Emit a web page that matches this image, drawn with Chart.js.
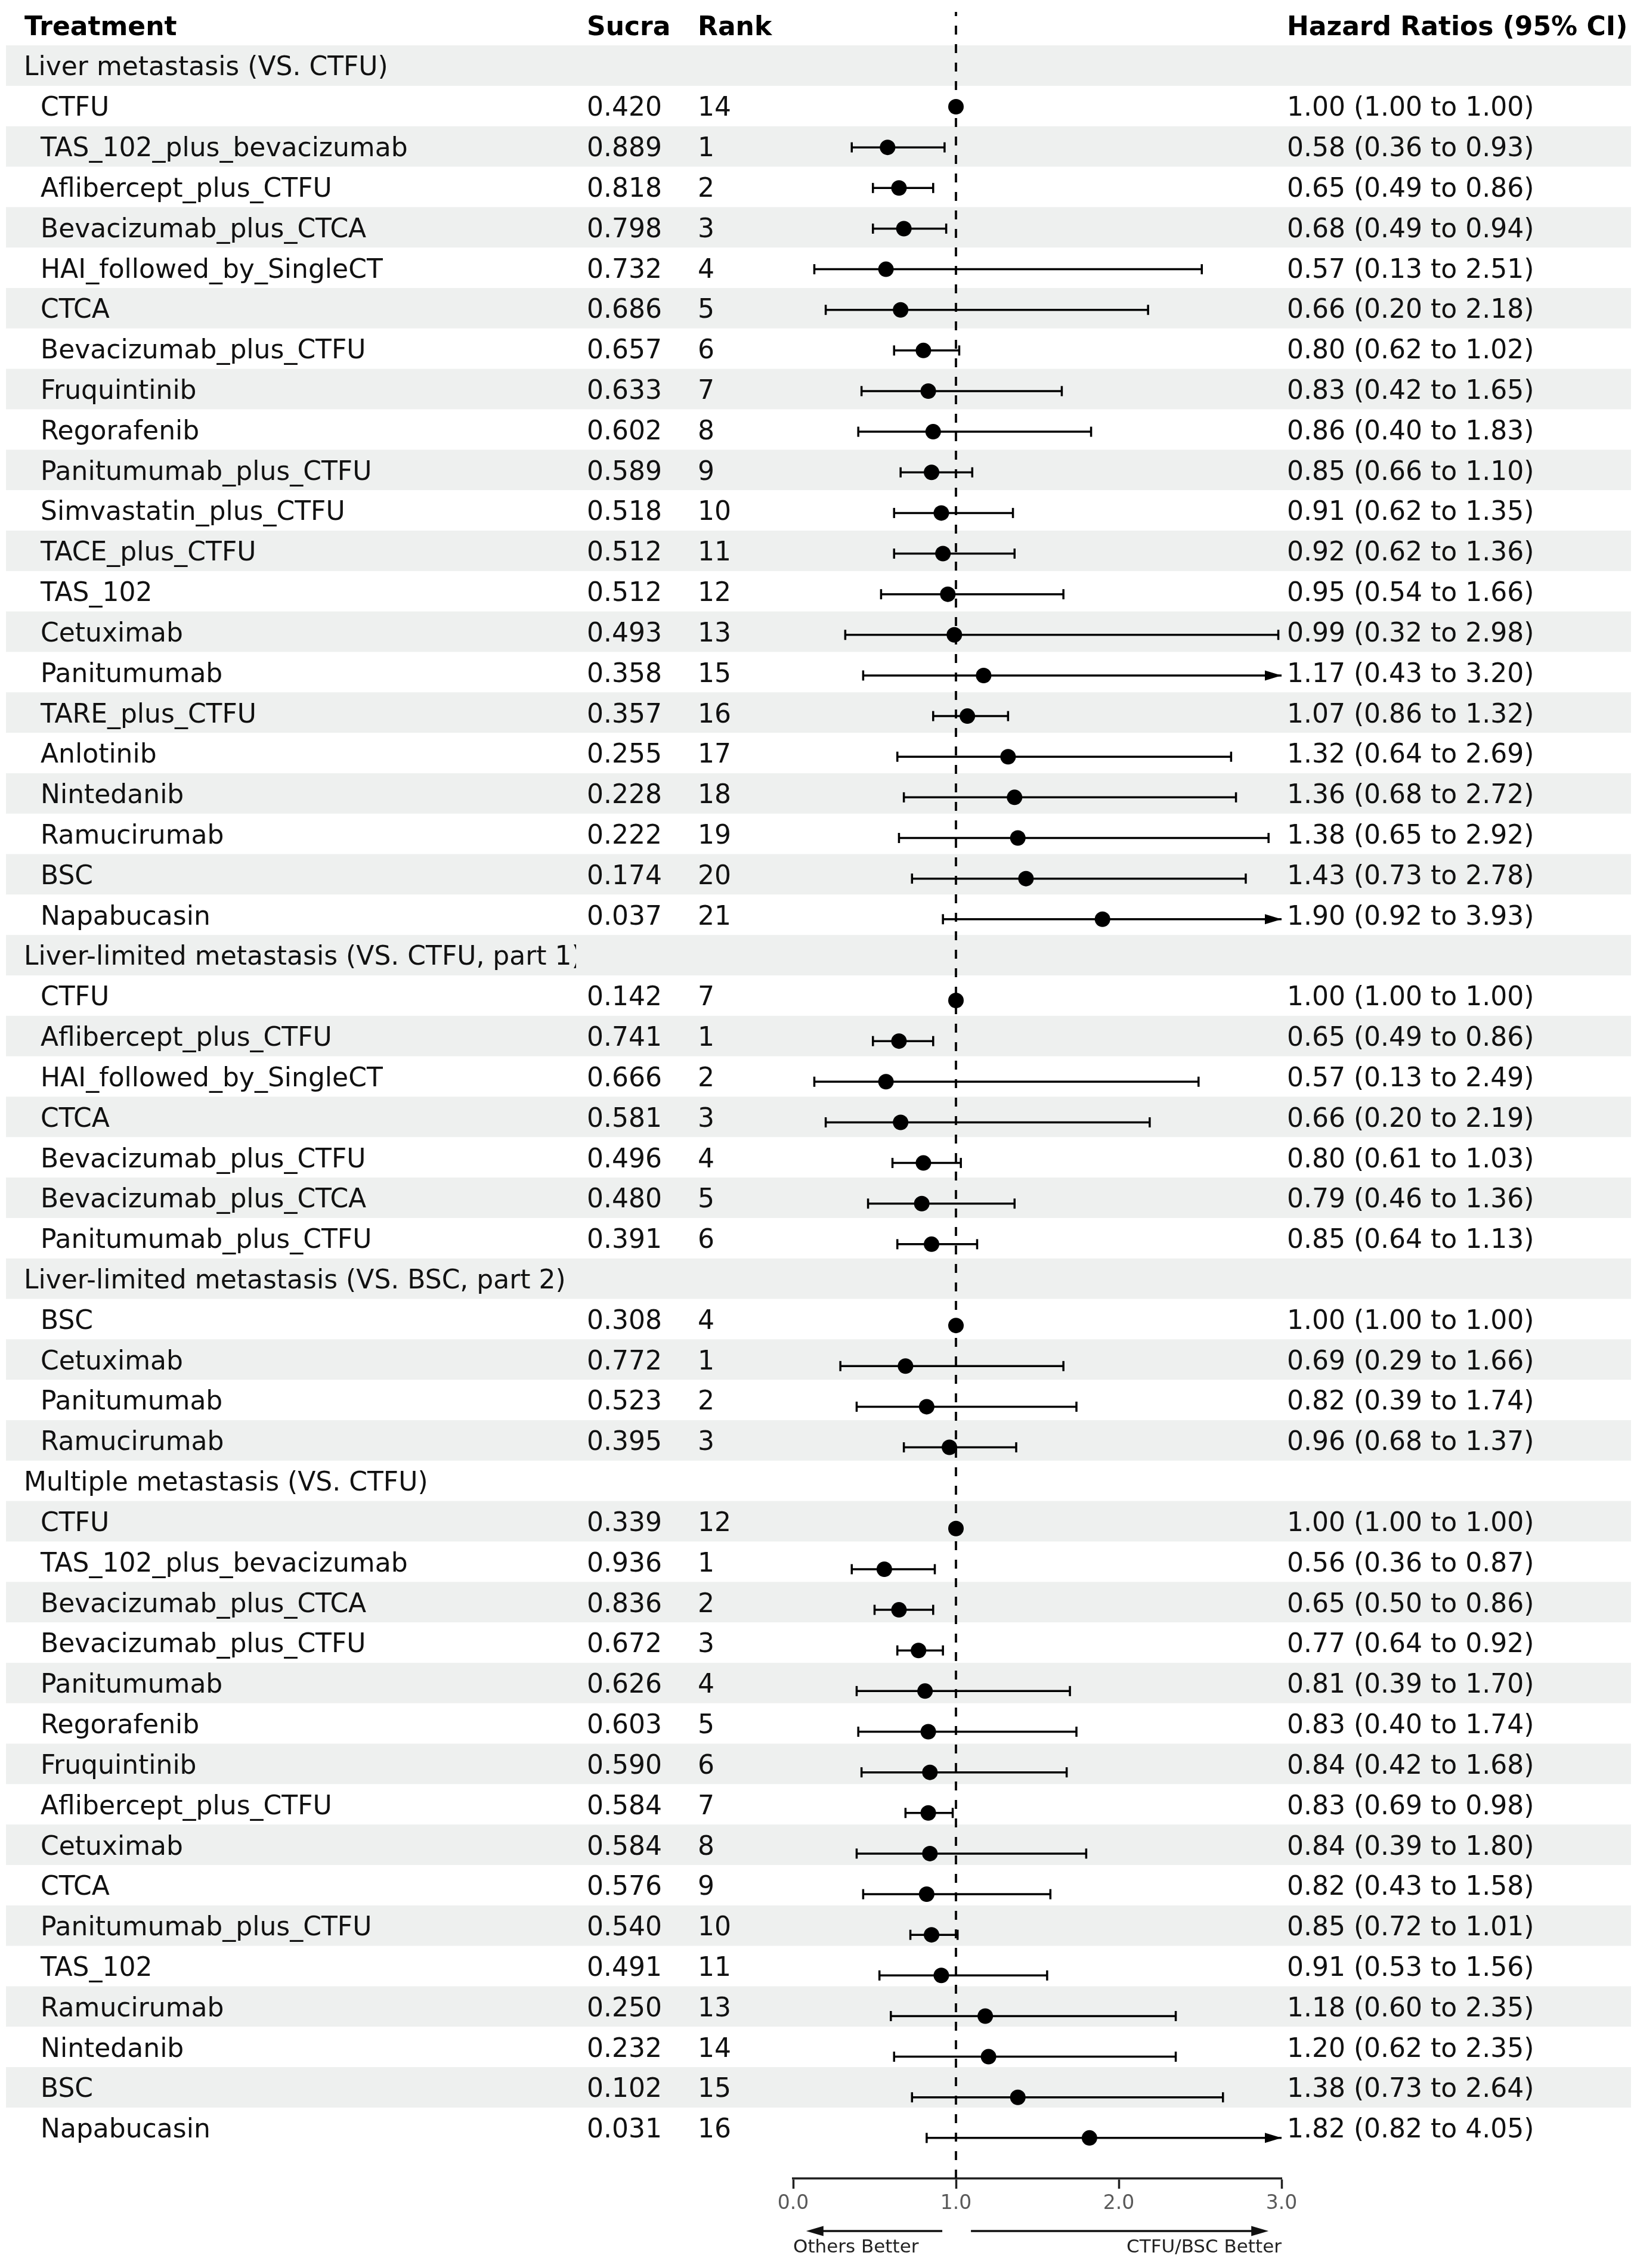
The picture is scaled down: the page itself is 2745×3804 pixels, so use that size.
<!DOCTYPE html>
<html>
<head>
<meta charset="utf-8">
<title>Forest plot</title>
<script src="https://cdn.jsdelivr.net/npm/chart.js@4.4.1/dist/chart.umd.min.js"></script>
<style>
  html, body { margin: 0; padding: 0; background: #fff; }
  canvas { display: block; }
</style>
</head>
<body>
<canvas id="forest" width="2745" height="3804"></canvas>
<script>
const FONT = "'DejaVu Sans', sans-serif";

// ---- data ----
const groupTitles = [
    "Liver metastasis (VS. CTFU)",
    "Liver-limited metastasis (VS. CTFU, part 1)",
    "Liver-limited metastasis (VS. BSC, part 2)",
    "Multiple metastasis (VS. CTFU)"
];
const groupSizes = [21, 7, 4, 16];

const treatments = [
    "CTFU", "TAS_102_plus_bevacizumab", "Aflibercept_plus_CTFU", "Bevacizumab_plus_CTCA",
    "HAI_followed_by_SingleCT", "CTCA", "Bevacizumab_plus_CTFU", "Fruquintinib", "Regorafenib",
    "Panitumumab_plus_CTFU", "Simvastatin_plus_CTFU", "TACE_plus_CTFU", "TAS_102", "Cetuximab",
    "Panitumumab", "TARE_plus_CTFU", "Anlotinib", "Nintedanib", "Ramucirumab", "BSC", "Napabucasin",

    "CTFU", "Aflibercept_plus_CTFU", "HAI_followed_by_SingleCT", "CTCA", "Bevacizumab_plus_CTFU",
    "Bevacizumab_plus_CTCA", "Panitumumab_plus_CTFU",

    "BSC", "Cetuximab", "Panitumumab", "Ramucirumab",

    "CTFU", "TAS_102_plus_bevacizumab", "Bevacizumab_plus_CTCA", "Bevacizumab_plus_CTFU",
    "Panitumumab", "Regorafenib", "Fruquintinib", "Aflibercept_plus_CTFU", "Cetuximab", "CTCA",
    "Panitumumab_plus_CTFU", "TAS_102", "Ramucirumab", "Nintedanib", "BSC", "Napabucasin"
];

const sucra = [
    0.420, 0.889, 0.818, 0.798, 0.732, 0.686, 0.657, 0.633, 0.602, 0.589, 0.518,
    0.512, 0.512, 0.493, 0.358, 0.357, 0.255, 0.228, 0.222, 0.174, 0.037,
    0.142, 0.741, 0.666, 0.581, 0.496, 0.480, 0.391,
    0.308, 0.772, 0.523, 0.395,
    0.339, 0.936, 0.836, 0.672, 0.626, 0.603, 0.590, 0.584, 0.584, 0.576,
    0.540, 0.491, 0.250, 0.232, 0.102, 0.031
];

const ranks = [
    14, 1, 2, 3, 4, 5, 6, 7, 8, 9, 10, 11, 12, 13, 15, 16, 17, 18, 19, 20, 21,
    7, 1, 2, 3, 4, 5, 6,
    4, 1, 2, 3,
    12, 1, 2, 3, 4, 5, 6, 7, 8, 9, 10, 11, 13, 14, 15, 16
];

const hazardRatio = [
    1.00, 0.58, 0.65, 0.68, 0.57, 0.66, 0.80, 0.83, 0.86, 0.85, 0.91,
    0.92, 0.95, 0.99, 1.17, 1.07, 1.32, 1.36, 1.38, 1.43, 1.90,
    1.00, 0.65, 0.57, 0.66, 0.80, 0.79, 0.85,
    1.00, 0.69, 0.82, 0.96,
    1.00, 0.56, 0.65, 0.77, 0.81, 0.83, 0.84, 0.83, 0.84, 0.82,
    0.85, 0.91, 1.18, 1.20, 1.38, 1.82
];

const ciLower = [
    1.00, 0.36, 0.49, 0.49, 0.13, 0.20, 0.62, 0.42, 0.40, 0.66, 0.62,
    0.62, 0.54, 0.32, 0.43, 0.86, 0.64, 0.68, 0.65, 0.73, 0.92,
    1.00, 0.49, 0.13, 0.20, 0.61, 0.46, 0.64,
    1.00, 0.29, 0.39, 0.68,
    1.00, 0.36, 0.50, 0.64, 0.39, 0.40, 0.42, 0.69, 0.39, 0.43,
    0.72, 0.53, 0.60, 0.62, 0.73, 0.82
];

const ciUpper = [
    1.00, 0.93, 0.86, 0.94, 2.51, 2.18, 1.02, 1.65, 1.83, 1.10, 1.35,
    1.36, 1.66, 2.98, 3.20, 1.32, 2.69, 2.72, 2.92, 2.78, 3.93,
    1.00, 0.86, 2.49, 2.19, 1.03, 1.36, 1.13,
    1.00, 1.66, 1.74, 1.37,
    1.00, 0.87, 0.86, 0.92, 1.70, 1.74, 1.68, 0.98, 1.80, 1.58,
    1.01, 1.56, 2.35, 2.35, 2.64, 4.05
];

const xTicks = [0, 1, 2, 3];
const X_MIN = 0, X_MAX = 3;

// ---- rows: a group header followed by its treatments ----
const rows = [];
let k = 0;
groupTitles.forEach((title, g) => {
    rows.push({ kind: "group", title: title });
    for (let j = 0; j < groupSizes[g]; j++) rows.push({ kind: "item", k: k++ });
});
const itemRows = rows.map((row, r) => ({ row, r })).filter(o => o.row.kind === "item");

const pointData = itemRows.map(({ row, r }) => ({ x: hazardRatio[row.k], y: r }));
const ciData = itemRows.flatMap(({ row, r }) => [
    { x: ciLower[row.k], y: r },
    { x: Math.min(ciUpper[row.k], X_MAX), y: r },
    { x: NaN, y: NaN }
]);
const capData = itemRows.flatMap(({ row, r }) => {
    if (ciLower[row.k] === ciUpper[row.k]) return [];
    const caps = [{ x: ciLower[row.k], y: r }];
    if (ciUpper[row.k] <= X_MAX) caps.push({ x: ciUpper[row.k], y: r });
    return caps;
});

// column positions of the table text
const COL = { header: 41, group: 40, item: 68, sucra: 984, rank: 1170, hr: 2158, groupClip: 966 };
const TEXT_DY = 5;
const STRIPE = "#eef0ef";

function arrow(ctx, x0, x1, y, len, half) {
    const dir = Math.sign(x1 - x0);
    ctx.beginPath();
    ctx.moveTo(x0, y);
    ctx.lineTo(x1 - dir * len * 0.6, y);
    ctx.stroke();
    ctx.beginPath();
    ctx.moveTo(x1, y);
    ctx.lineTo(x1 - dir * len, y - half);
    ctx.lineTo(x1 - dir * len, y + half);
    ctx.closePath();
    ctx.fill();
}

const forestTable = {
    id: "forestTable",
    beforeDraw(chart) {
        const { ctx } = chart;
        const yt = chart.scales.yTable;
        ctx.save();
        ctx.fillStyle = "#fff";
        ctx.fillRect(0, 0, chart.width, chart.height);
        ctx.fillStyle = STRIPE;
        rows.forEach((row, r) => {
            if (r % 2 !== 0) return;
            const y0 = yt.getPixelForValue(r - 0.5);
            const y1 = yt.getPixelForValue(r + 0.5);
            ctx.fillRect(10, y0, 2725, y1 - y0);
        });
        ctx.restore();
    },
    beforeDatasetsDraw(chart) {
        const { ctx, chartArea } = chart;
        const x = chart.scales.x.getPixelForValue(1);
        ctx.save();
        ctx.strokeStyle = "#111";
        ctx.lineWidth = 4;
        ctx.setLineDash([15, 16]);
        ctx.beginPath();
        ctx.moveTo(x, chartArea.bottom);
        ctx.lineTo(x, chartArea.top);
        ctx.stroke();
        ctx.restore();
    },
    afterDatasetsDraw(chart) {
        // arrowheads for intervals running past the axis end
        const { ctx } = chart;
        const xs = chart.scales.x, ys = chart.scales.y;
        ctx.save();
        ctx.fillStyle = "#000";
        itemRows.forEach(({ row, r }) => {
            if (ciUpper[row.k] <= X_MAX) return;
            const tip = xs.getPixelForValue(X_MAX);
            const y = ys.getPixelForValue(r);
            ctx.beginPath();
            ctx.moveTo(tip, y);
            ctx.lineTo(tip - 28, y - 8.5);
            ctx.lineTo(tip - 28, y + 8.5);
            ctx.closePath();
            ctx.fill();
        });
        ctx.restore();
    },
    afterDraw(chart) {
        const { ctx, chartArea } = chart;
        const yt = chart.scales.yTable;
        const xs = chart.scales.x;
        ctx.save();
        ctx.textBaseline = "middle";
        ctx.textAlign = "left";
        ctx.fillStyle = "#000";

        const hy = yt.getPixelForValue(-1) + TEXT_DY;
        ctx.font = "bold 44px " + FONT;
        ctx.fillText("Treatment", COL.header, hy);
        ctx.fillText("Sucra", COL.sucra, hy);
        ctx.fillText("Rank", COL.rank, hy);
        ctx.fillText("Hazard Ratios (95% CI)", COL.hr, hy);

        ctx.font = "44px " + FONT;
        ctx.fillStyle = "#111";
        rows.forEach((row, r) => {
            const y = yt.getPixelForValue(r) + TEXT_DY;
            if (row.kind === "group") {
                ctx.save();
                ctx.beginPath();
                ctx.rect(0, y - 40, COL.groupClip, 80);
                ctx.clip();
                ctx.fillText(row.title, COL.group, y);
                ctx.restore();
                return;
            }
            const i = row.k;
            ctx.fillText(treatments[i], COL.item, y);
            ctx.fillText(sucra[i].toFixed(3), COL.sucra, y);
            ctx.fillText(String(ranks[i]), COL.rank, y);
            ctx.fillText(hazardRatio[i].toFixed(2) + " (" + ciLower[i].toFixed(2) + " to " +
                ciUpper[i].toFixed(2) + ")", COL.hr, y);
        });

        // direction arrows under the axis
        const ay = chartArea.bottom + 88;
        ctx.strokeStyle = "#111";
        ctx.fillStyle = "#111";
        ctx.lineWidth = 3.5;
        arrow(ctx, xs.getPixelForValue(0.916), xs.getPixelForValue(0.08), ay, 29, 8.5);
        arrow(ctx, xs.getPixelForValue(1.092), xs.getPixelForValue(2.92), ay, 29, 8.5);

        ctx.font = "31px " + FONT;
        ctx.fillStyle = "#222";
        const ty = chartArea.bottom + 116;
        ctx.textAlign = "left";
        ctx.fillText("Others Better", xs.getPixelForValue(X_MIN), ty);
        ctx.textAlign = "right";
        ctx.fillText("CTFU/BSC Better", xs.getPixelForValue(X_MAX), ty);
        ctx.restore();
    }
};

new Chart(document.getElementById("forest"), {
    type: "scatter",
    data: {
        datasets: [
            {
                label: "HR",
                data: pointData,
                order: 0,
                pointStyle: "circle",
                pointRadius: 13,
                backgroundColor: "#000",
                borderColor: "#000",
                borderWidth: 0
            },
            {
                label: "caps",
                data: capData,
                order: 1,
                pointStyle: "line",
                rotation: 90,
                pointRadius: 8.5,
                borderColor: "#000",
                borderWidth: 3.5
            },
            {
                label: "95% CI",
                data: ciData,
                order: 2,
                showLine: true,
                spanGaps: false,
                pointRadius: 0,
                borderColor: "#000",
                borderWidth: 3.5
            }
        ]
    },
    options: {
        responsive: false,
        maintainAspectRatio: false,
        devicePixelRatio: 1,
        animation: false,
        events: [],
        layout: { padding: { left: 1330, right: 596, top: 20, bottom: 0 } },
        plugins: {
            legend: { display: false },
            tooltip: { enabled: false }
        },
        scales: {
            x: {
                type: "linear",
                position: "bottom",
                min: X_MIN,
                max: X_MAX,
                afterBuildTicks: scale => { scale.ticks = xTicks.map(v => ({ value: v })); },
                afterFit: scale => { scale.height = 150; },
                ticks: {
                    callback: v => Number(v).toFixed(1),
                    font: { family: FONT, size: 33 },
                    color: "#5a5a5a",
                    padding: 6,
                    maxRotation: 0,
                    autoSkip: false
                },
                grid: {
                    drawOnChartArea: false,
                    drawTicks: true,
                    tickLength: 17,
                    tickWidth: 3.5,
                    tickColor: "#222"
                },
                border: { display: true, color: "#222", width: 3.5 }
            },
            y: {
                type: "linear",
                display: false,
                reverse: true,
                min: -1.334,
                max: 52.0
            },
            yTable: {
                type: "linear",
                axis: "y",
                display: false,
                reverse: true,
                min: -1.327,
                max: 52.256
            }
        }
    },
    plugins: [forestTable]
});
</script>
</body>
</html>
